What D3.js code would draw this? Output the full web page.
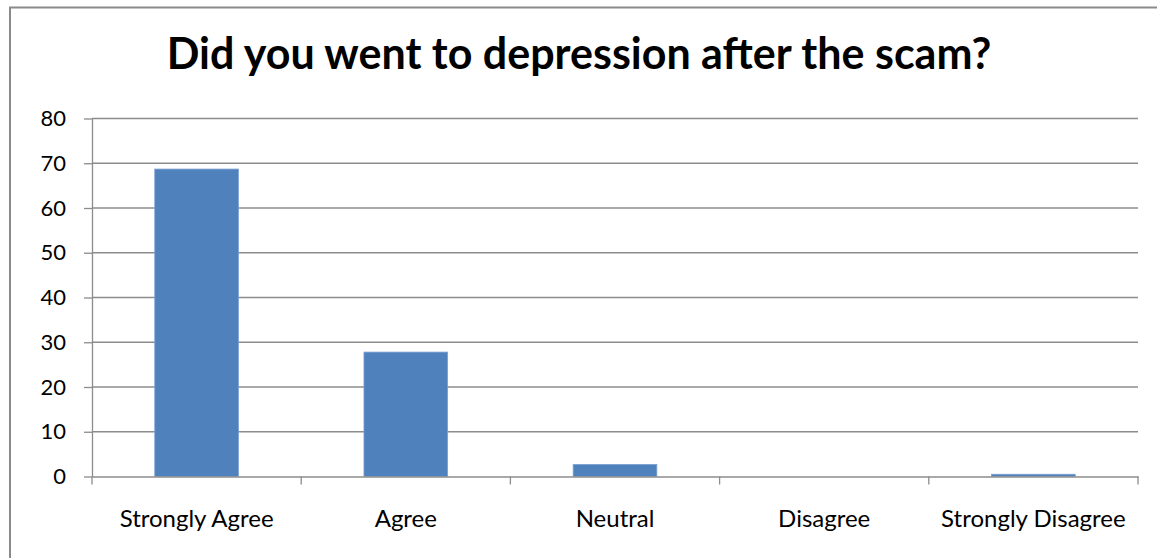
<!DOCTYPE html>
<html>
<head>
<meta charset="utf-8">
<script src="https://cdn.jsdelivr.net/npm/d3@7/dist/d3.min.js"></script>
<style>
  html, body { margin: 0; padding: 0; background: #fff; }
  svg { display: block; }
</style>
</head>
<body>
<svg id="chart" width="1157" height="558"></svg>
<script>
const title = "Did you went to depression after the scam?";
const categories = ["Strongly Agree", "Agree", "Neutral", "Disagree", "Strongly Disagree"];
const values = [68.7, 27.8, 2.7, 0, 0.5];
const yTicks = [0, 10, 20, 30, 40, 50, 60, 70, 80];

const svg = d3.select("#chart");
const W = 1157, H = 558;
const m = { left: 92, right: 1138, top: 118.5, bottom: 476.5 };
const font = "Lato, 'Open Sans', sans-serif";

svg.append("rect").attr("width", W).attr("height", H).attr("fill", "#fff");

// outer chart border
svg.append("rect")
  .attr("x", 10).attr("y", 7.5)
  .attr("width", W + 20).attr("height", H + 20)
  .attr("fill", "none").attr("stroke", "#8a8a8a").attr("stroke-width", 2);

const x = d3.scaleBand().domain(categories).range([m.left, m.right]).paddingInner(0.6).paddingOuter(0.3);
const xb = d3.scaleBand().domain(categories).range([m.left, m.right]);
const y = d3.scaleLinear().domain([0, 80]).range([m.bottom, m.top]);

// gridlines
svg.append("g").selectAll("line").data(yTicks.filter(d => d > 0)).join("line")
  .attr("x1", m.left).attr("x2", m.right)
  .attr("y1", d => y(d)).attr("y2", d => y(d))
  .attr("stroke", "#8c8c8c").attr("stroke-width", 1.3);

// bars
svg.append("g").selectAll("rect").data(values).join("rect")
  .attr("x", (d, i) => x(categories[i]))
  .attr("width", x.bandwidth())
  .attr("y", d => y(d))
  .attr("height", d => y(0) - y(d))
  .attr("fill", "#4f81bd")
  .attr("stroke", d => d > 0 ? "#7da0d0" : "none")
  .attr("stroke-width", 0.8);

// y axis
const yAxis = d3.axisLeft(y).tickValues(yTicks).tickSize(8).tickPadding(18).tickSizeOuter(0);
const gy = svg.append("g").attr("transform", `translate(${m.left},0)`).call(yAxis);
gy.select(".domain").attr("stroke", "#8c8c8c").attr("stroke-width", 1.3);
gy.selectAll(".tick line").attr("stroke", "#8c8c8c").attr("stroke-width", 1.3);
gy.selectAll(".tick text").attr("font-family", font).attr("font-size", 22).attr("fill", "#000");

// x axis
const gx = svg.append("g").attr("transform", `translate(0,${m.bottom})`)
  .call(d3.axisBottom(xb).tickSize(0).tickPadding(33).tickSizeOuter(0));
gx.select(".domain").attr("stroke", "#8c8c8c").attr("stroke-width", 1.3);
gx.selectAll(".tick text").attr("font-family", font).attr("font-size", 24).attr("fill", "#000");
// category boundary ticks
const bounds = categories.map(c => xb(c)).concat([m.right]);
gx.append("g").selectAll("line").data(bounds).join("line")
  .attr("x1", d => d).attr("x2", d => d)
  .attr("y1", 0).attr("y2", 8)
  .attr("stroke", "#8c8c8c").attr("stroke-width", 1.3);

// title
svg.append("text")
  .attr("x", 579).attr("y", 69)
  .attr("text-anchor", "middle")
  .attr("font-family", font).attr("font-weight", "bold").attr("font-size", 43)
  .attr("fill", "#000")
  .text(title);
</script>
</body>
</html>
